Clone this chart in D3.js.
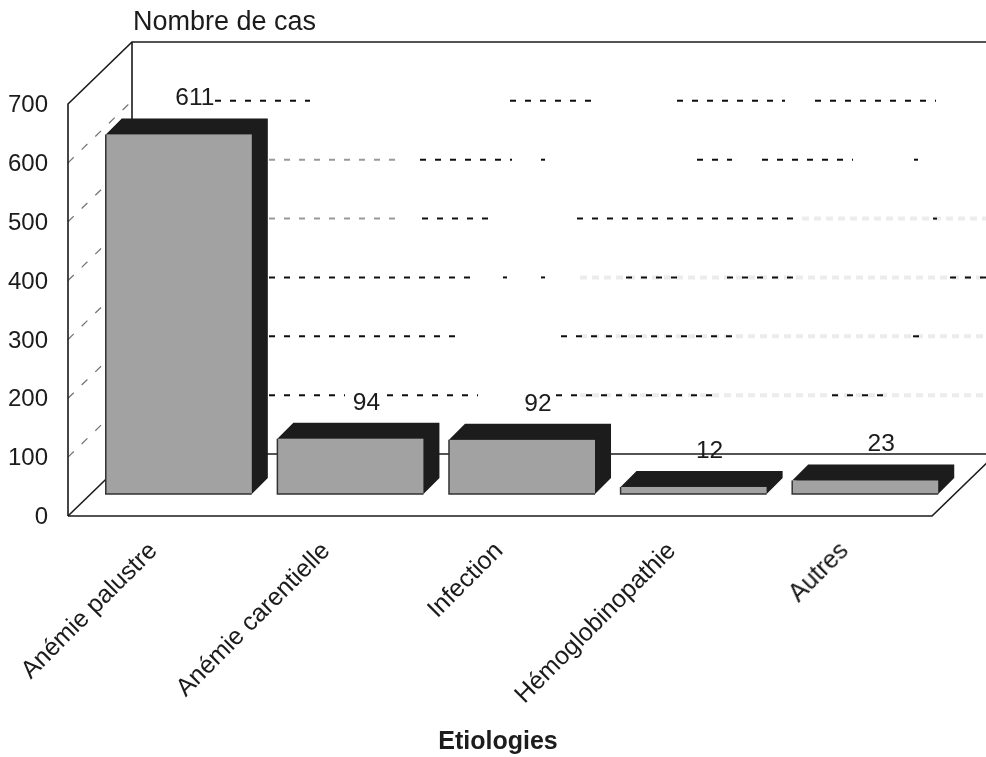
<!DOCTYPE html>
<html>
<head>
<meta charset="utf-8">
<script src="https://cdn.jsdelivr.net/npm/d3@7"></script>
<style>
  html, body { margin: 0; background: #fff; }
  text { font-family: "Liberation Sans", Arial, sans-serif; fill: #1a1a1a; }
</style>
</head>
<body>
<div id="chart"></div>
<script>
var categories = ["Anémie palustre", "Anémie carentielle", "Infection", "Hémoglobinopathie", "Autres"];
var cases = [611, 94, 92, 12, 23];
var yTicks = [0, 100, 200, 300, 400, 500, 600, 700];

// parts of each back wall gridline that survived the scan, by tick value
var gridLevels = [100, 200, 300, 400, 500, 600];
var gridInk = [
    [[269, 345], [387, 478], [556, 716], [832, 885]],
    [[269, 459], [561, 732], [913, 922]],
    [[269, 478], [503, 507], [541, 545], [626, 684], [727, 802], [950, 986]],
    [[422, 496], [577, 802], [933, 937]],
    [[420, 512], [541, 545], [697, 732], [762, 853], [914, 918]],
    [[215, 310], [510, 598], [677, 785], [815, 936]]
];
var gridGrey = [[], [], [], [[269, 396]], [[269, 396]], []];
var gridFaint = [
    [[580, 986]],
    [[580, 986]],
    [[580, 986]],
    [[802, 986]],
    [],
    []
];

var width = 986, height = 757;
var wallDx = 64, wallDy = 62;     // depth of the chart box
var barDepth = 16;                // depth of one bar
var dark = "#1a1a1a";

var x = d3.scaleBand().domain(categories).range([93, 951]).paddingInner(0.149).paddingOuter(0.0745);
var xFront = d3.scaleBand().domain(categories).range([68, 932]);
var y = d3.scaleLinear().domain([0, 700]).range([516, 104]);
var baseY = y(0) - 22;
var h = d => y(0) - y(d);

var root = d3.select("#chart").append("svg")
    .attr("width", width)
    .attr("height", height)
    .style("display", "block");

root.append("defs").append("filter")
    .attr("id", "scan")
    .append("feGaussianBlur")
    .attr("stdDeviation", 0.45);

var svg = root.append("g").attr("filter", "url(#scan)");

function gridRow(g, spans, yy, color, w, dash) {
    spans.forEach(s => g.append("line")
        .attr("x1", s[0]).attr("x2", s[1]).attr("y1", yy).attr("y2", yy)
        .attr("stroke", color).attr("stroke-width", w).attr("stroke-dasharray", dash));
}

// back wall gridlines, dashed and patchy
var grid = svg.append("g").attr("fill", "none");
gridLevels.forEach((level, i) => {
    var yy = y(level) - wallDy;
    gridRow(grid, gridFaint[i], yy, "#ececec", 4, "7 5");
    gridRow(grid, gridGrey[i], yy, "#999", 2, "6 9");
    gridRow(grid, gridInk[i], yy, "#111", 2, "6 9");
});

// left wall gridlines
svg.append("g").selectAll("line")
    .data(yTicks.slice(1, 7))
    .join("line")
    .attr("x1", 68).attr("y1", d => y(d))
    .attr("x2", 68 + wallDx).attr("y2", d => y(d) - wallDy)
    .attr("stroke", "#777").attr("stroke-width", 1.3).attr("stroke-dasharray", "8 11");

// box outline
var box = svg.append("g").attr("fill", "none").attr("stroke", "#1a1a1a").attr("stroke-width", 1.6);
box.append("path").attr("d", d3.line()([
    [68, y(0)], [68, y(700)], [68 + wallDx, y(700) - wallDy], [width, y(700) - wallDy]
]));
box.append("path").attr("d", d3.line()([[68 + wallDx, y(700) - wallDy], [68 + wallDx, y(611)]]));
box.append("path").attr("d", d3.line()([
    [68, y(0)], [932, y(0)], [932 + wallDx, y(0) - wallDy]
]));
box.append("path").attr("d", d3.line()([[68, y(0)], [68 + wallDx, y(0) - wallDy]]));
box.append("path").attr("d", d3.line()([[68 + wallDx, y(0) - wallDy], [width, y(0) - wallDy]]));

// bars
var bars = svg.append("g").selectAll("g")
    .data(categories.map((c, i) => ({ name: c, value: cases[i] })))
    .join("g");

bars.append("path")
    .attr("fill", dark)
    .attr("d", d => {
        var l = x(d.name), r = l + x.bandwidth(), t = baseY - h(d.value);
        return d3.line()([
            [l, t], [l + barDepth, t - barDepth], [r + barDepth, t - barDepth],
            [r + barDepth, baseY - barDepth], [r, baseY]
        ]) + "Z";
    });

bars.append("rect")
    .attr("x", d => x(d.name))
    .attr("y", d => baseY - h(d.value))
    .attr("width", x.bandwidth())
    .attr("height", d => h(d.value))
    .attr("fill", "#a2a2a2");

bars.append("path")
    .attr("fill", "none")
    .attr("stroke", "#333")
    .attr("stroke-width", 1.5)
    .attr("d", d => {
        var l = x(d.name), r = l + x.bandwidth(), t = baseY - h(d.value);
        return d3.line()([[l, t], [l, baseY], [r, baseY]]);
    });

bars.append("text")
    .attr("x", d => x(d.name) + x.bandwidth() / 2 + barDepth)
    .attr("y", d => baseY - h(d.value) - barDepth - 13)
    .attr("text-anchor", "middle")
    .style("font-size", "24.5px")
    .text(d => d.value);

// y axis labels
var yAxis = svg.append("g")
    .attr("transform", "translate(68,0)")
    .call(d3.axisLeft(y).tickValues(yTicks).tickSize(0).tickPadding(20));
yAxis.select(".domain").remove();
yAxis.selectAll("text").style("font-size", "24px").style("font-family", null).attr("fill", null);

// x axis labels
var xAxis = svg.append("g")
    .attr("transform", `translate(0,${y(0)})`)
    .call(d3.axisBottom(xFront).tickSize(0));
xAxis.select(".domain").remove();
xAxis.selectAll("text")
    .attr("text-anchor", "end")
    .attr("dy", null)
    .attr("y", null)
    .attr("fill", null)
    .attr("transform", "translate(4,36) rotate(-45)")
    .style("font-size", "25px");

svg.append("text")
    .attr("x", 133).attr("y", 30)
    .style("font-size", "27px")
    .text("Nombre de cas");

svg.append("text")
    .attr("x", 498).attr("y", 749)
    .attr("text-anchor", "middle")
    .style("font-size", "25px")
    .style("font-weight", "bold")
    .text("Etiologies");
</script>
</body>
</html>
